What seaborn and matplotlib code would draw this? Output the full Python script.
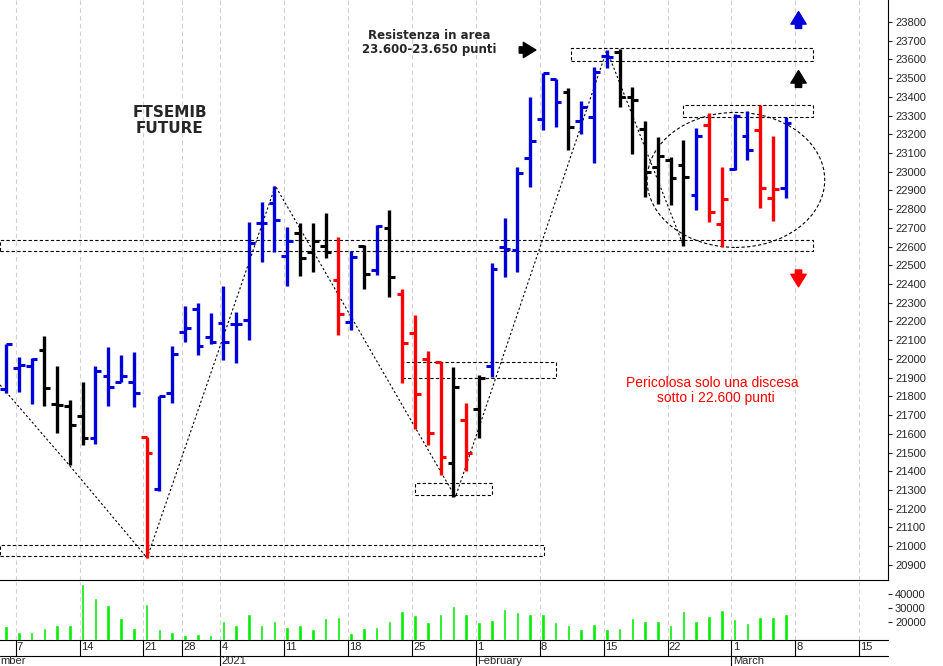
import numpy as np
import pandas as pd
import matplotlib
matplotlib.use("Agg")
import matplotlib.pyplot as plt
from matplotlib.patches import Rectangle, Ellipse
import seaborn as sns

# daily bars, 4 Dec 2020 .. 5 Mar 2021 (trading days only)
opens = [21840, 21950, 21960, 22050, 21760, 21749, 21695, 21578, 21909, 21877,
         21877, 21583, 21305, 21816, 22144, 22267, 22117, 22192, 22187, 22208,
         22727, 22833, 22550, 22673, 22571, 22603, 22422, 22198, 22603, 22475,
         22700, 22347, 22139, 22000, 21984, 21444, 21674, 21733, 21962, 22598,
         22580, 23073, 23282, 23495, 23426, 23271, 23292, 23618, 23640, 23399,
         23228, 23025, 23063, 23036, 22876, 23250, 22721, 23015, 23191, 23223,
         22860, 22913]
highs = [22080, 22010, 22005, 22123, 21962, 21780, 21877, 21962, 22064, 22021,
         22037, 21583, 21802, 22069, 22283, 22299, 22245, 22390, 22250, 22732,
         22838, 22924, 22705, 22727, 22727, 22780, 22652, 22577, 22608, 22716,
         22796, 22374, 22235, 22043, 21984, 21957, 21765, 21914, 22512, 22753,
         23025, 23400, 23528, 23495, 23447, 23378, 23560, 23650, 23656, 23453,
         23271, 23186, 23079, 23170, 23234, 23314, 23025, 23308, 23325, 23357,
         23191, 23292]
lows = [21820, 21823, 21759, 21749, 21604, 21434, 21540, 21546, 21749, 21877,
        21743, 20937, 21294, 21765, 22090, 22021, 22080, 21995, 21978, 22101,
        22518, 22571, 22390, 22443, 22464, 22539, 22128, 22155, 22374, 22448,
        22331, 21872, 21626, 21540, 21380, 21262, 21402, 21578, 21904, 22437,
        22464, 22918, 23223, 23239, 23116, 23202, 23047, 23554, 23346, 23095,
        22865, 22828, 22822, 22604, 22796, 22732, 22598, 23009, 23063, 22806,
        22737, 22860]
closes = [22080, 21965, 22000, 21845, 21755, 21647, 21578, 21935, 21850, 21909,
          21818, 21497, 21800, 22026, 22165, 22069, 22090, 22090, 22187, 22620,
          22727, 22742, 22630, 22539, 22630, 22571, 22240, 22544, 22454, 22710,
          22437, 22085, 21813, 21604, 21476, 21850, 21498, 21898, 22480, 22587,
          22993, 23164, 23528, 23373, 23239, 23346, 23533, 23613, 23399, 23383,
          22999, 23084, 22967, 22972, 23191, 22785, 22855, 23298, 23116, 22913,
          22908, 23260]
bar_colors = (["b"] * 3 + ["k"] * 4 + ["b"] * 4 + ["r"] + ["b"] * 11 + ["k"] * 3
              + ["r", "b", "k", "b", "k"] + ["r"] * 4 + ["k", "r", "k"] + ["b"] * 6
              + ["k"] + ["b"] * 3 + ["k"] * 6 + ["b", "r", "r", "b", "b", "r", "r", "b"])
volumes = [17000, 13000, 13000, 16000, 18000, 18000, 47500, 37000, 32500, 23000,
           15750, 33000, 15000, 13000, 10500, 11500, 11000, 20500, 17500, 26000,
           17500, 21000, 16750, 18000, 15000, 23000, 23500, 12000, 16000, 16500,
           20500, 27500, 25000, 20000, 25500, 31500, 26000, 20000, 21500, 29500,
           27000, 26000, 25500, 20000, 17500, 15000, 18750, 15000, 15500, 23000,
           20750, 20750, 18000, 27500, 20750, 24500, 28750, 22000, 19500, 23750,
           23750, 25500]

# Monday tick positions (bar index) and labels
week_pos = [1, 6, 11, 14, 17, 22, 27, 32, 37, 42, 47, 52, 57, 62, 67]
week_lab = ["7", "14", "21", "28", "4", "11", "18", "25", "1", "8", "15", "22", "1", "8", "15"]
month_pos = [-0.3, 17, 37, 57]
month_lab = ["mber", "2021", "February", "March"]

# hand drawn trend zigzag (bar index, price)
zig_x = [-0.47, 4.93, 11.04, 21.07, 35.16, 47.0, 53.0]
zig_y = [21861, 21434, 20937, 22924, 21262, 23650, 22604]

col_map = {"b": "#0000d8", "r": "#ff0000", "k": "#000000"}

sns.set_style("white")
plt.rcParams["font.family"] = ["Liberation Sans", "DejaVu Sans"]

fig = plt.figure(figsize=(9.43, 6.66), dpi=100)
ax = fig.add_axes([0, 1 - 580 / 666, 888 / 943, 580 / 666])
axv = fig.add_axes([0, 1 - 640 / 666, 888 / 943, 58 / 666])

x = np.arange(len(opens))
xlim = (-0.47, 69.0)

for a in (ax, axv):
    for p in week_pos:
        a.axvline(p - 0.25, color="#d0d0d0", lw=0.8, ls=(0, (4, 3)), zorder=0)

# OHLC bars
cols = [col_map[c] for c in bar_colors]
ax.vlines(x, lows, highs, colors=cols, lw=2.4, zorder=3)
ax.hlines(opens, x - 0.45, x, colors=cols, lw=2.2, zorder=3)
ax.hlines(closes, x, x + 0.45, colors=cols, lw=2.2, zorder=3)

ax.plot(zig_x, zig_y, color="k", lw=0.8, ls=(0, (2, 2)), zorder=2)

# dashed boxes
boxes = [(44.2, 63.1, 23590, 23660), (53.0, 63.1, 23292, 23357),
         (-0.5, 63.1, 22577, 22635), (31.0, 43.0, 21898, 21984),
         (32.0, 38.0, 21273, 21337), (-0.5, 42.1, 20947, 21006)]
for x0, x1, y0, y1 in boxes:
    ax.add_patch(Rectangle((x0, y0), x1 - x0, y1 - y0, fill=False, ec="k",
                           lw=0.8, ls=(0, (3, 2)), zorder=2))
ax.add_patch(Ellipse((57.1, 22956), 13.9, 721, fill=False, ec="k", lw=0.8,
                     ls=(0, (3, 2)), zorder=2))

bold_font = ["DejaVu Sans"]
ax.text(33.1, 23690, "Resistenza in area\n23.600-23.650 punti", ha="center",
        va="center", fontsize=8.5, fontweight="bold", linespacing=1.15,
        family=bold_font)
ax.text(12.8, 23275, "FTSEMIB\nFUTURE", ha="center", va="center", fontsize=11,
        fontweight="bold", linespacing=1.1, family=bold_font)
ax.text(48.5, 21830, "Pericolosa solo una discesa\n        sotto i 22.600 punti",
        ha="left", va="center", fontsize=10, color="#ff0000", linespacing=1.1)

def arrow(xc, yc, dx, dy, color):
    ax.annotate("", xy=(xc + dx, yc + dy), xytext=(xc - dx, yc - dy),
                arrowprops=dict(arrowstyle="simple,head_width=1.1,head_length=0.9,tail_width=0.45",
                                color=color, shrinkA=0, shrinkB=0, mutation_scale=10),
                zorder=5)

arrow(40.8, 23650, 0.65, 0, "k")
arrow(62.0, 23810, 0, 45, "#0000d8")
arrow(62.0, 23495, 0, 45, "k")
arrow(62.0, 22430, 0, -45, "#ff0000")

ax.set_xlim(xlim)
ax.set_ylim(20819, 23917)
ax.yaxis.tick_right()
ax.set_yticks(np.arange(20900, 23801, 100))
ax.tick_params(axis="y", labelsize=8, length=3, pad=2, right=True)
ax.set_xticks([])
for s in ax.spines.values():
    s.set_visible(False)
ax.spines["right"].set_visible(True)
ax.spines["bottom"].set_visible(True)
ax.spines["right"].set_color("k")
ax.spines["bottom"].set_color("k")

# volume pane
vol_df = pd.DataFrame({"i": x, "v": volumes})
axv.bar(vol_df["i"], vol_df["v"], width=0.28, color="#00ee00", zorder=3)
sns.despine(ax=axv, left=True, top=True)
axv.set_xlim(xlim)
axv.set_ylim(7100, 48600)
axv.yaxis.tick_right()
axv.set_yticks([20000, 30000, 40000])
axv.tick_params(axis="y", labelsize=8, length=3, pad=2, right=True)
axv.spines["right"].set_color("k")
axv.spines["bottom"].set_color("k")
axv.set_xticks([])
tr = axv.get_xaxis_transform()
for p, lab in zip(week_pos, week_lab):
    axv.text(p - 0.15, -0.03, lab, transform=tr, ha="left", va="top", fontsize=8)
    axv.plot([p - 0.25, p - 0.25], [-0.27, 0], color="k", lw=0.8,
             transform=tr, clip_on=False)
for p, lab in zip(month_pos, month_lab):
    axv.text(p - 0.15, -0.28, lab, transform=tr, ha="left", va="top", fontsize=8)
    axv.plot([p - 0.25, p - 0.25], [-0.27, -0.45], color="k", lw=0.8,
             transform=tr, clip_on=False)
axv.plot([0, 1], [-0.27, -0.27], color="k", lw=0.8, transform=axv.transAxes,
         clip_on=False)

fig.savefig("out.png", dpi=100)
